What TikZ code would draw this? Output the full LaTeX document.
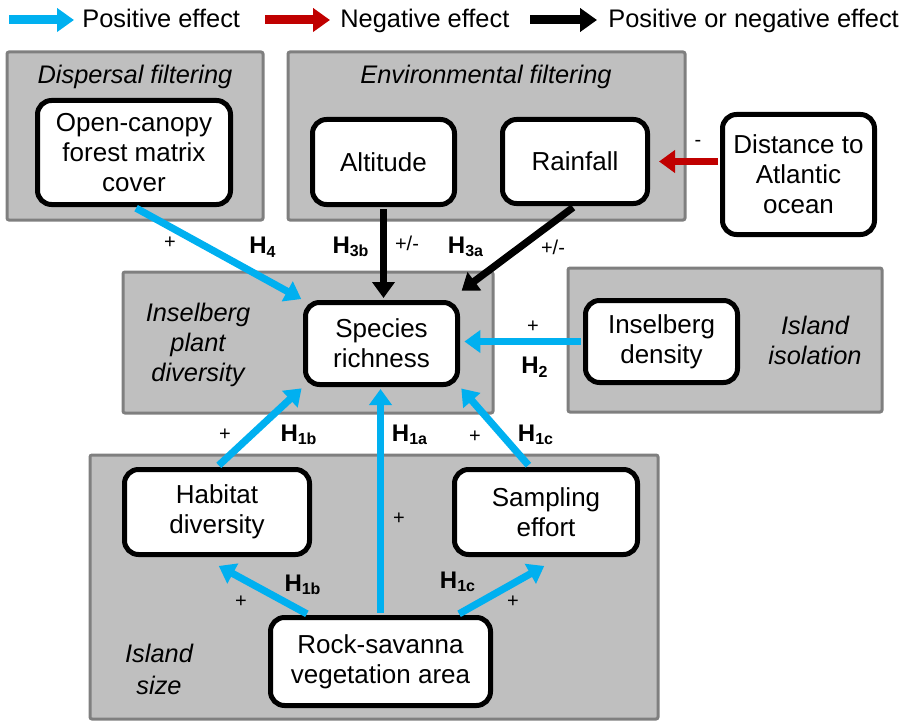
\documentclass[tikz,border=0pt]{standalone}
\usepackage{fontspec}
\setmainfont{Liberation Sans}
\usepackage{tikz}
\usetikzlibrary{positioning,arrows.meta}
\definecolor{posblue}{HTML}{00B0F0}
\definecolor{negred}{HTML}{C00000}
\definecolor{boxgray}{HTML}{BFBFBF}
\definecolor{edgegray}{HTML}{7F7F7F}

\begin{document}
\begin{tikzpicture}[x=0.5pt, y=-0.5pt,
            factor/.style={draw, line width=2.5pt, rounded corners=7pt, fill=white, align=center, inner sep=0pt, font=\fontsize{13}{15}\selectfont},
            group/.style={draw=edgegray, fill=boxgray, line width=1.5pt, rounded corners=1pt},
            grouplabel/.style={align=center, font=\fontsize{12.7}{15}\selectfont\itshape},
            hyp/.style={inner sep=0pt, font=\fontsize{12}{14}\selectfont\bfseries},
            sign/.style={inner sep=0pt, font=\fontsize{10}{12}\selectfont},
            effect/.style={line width=3.6pt, -{Triangle[length=8pt,width=11pt]}, shorten <=1.2pt, shorten >=1pt},
            posfx/.style={effect, posblue},
            negfx/.style={effect, negred},
            bothfx/.style={effect, black},
            legend/.style={anchor=base west, inner sep=0pt, font=\fontsize{12.7}{15}\selectfont},
            legarrow/.style={line width=4.5pt, -{Triangle[length=8.5pt,width=11.5pt]}}
        ]
            \useasboundingbox (0,0) rectangle (905,722);

            \coordinate (lpos) at (9,20);
            \coordinate (lneg) at (265,20);
            \coordinate (lboth) at (530,20);
            \node [legend] (tpos) at (82,28) {Positive effect};
            \node [legend] (tneg) at (340,28) {Negative effect};
            \node [legend] (tboth) at (608,28) {Positive or negative effect};
            \draw [legarrow, posblue, shorten >=4pt] (lpos) -- (lpos -| tpos.west);
            \draw [legarrow, negred, shorten >=5pt] (lneg) -- (lneg -| tneg.west);
            \draw [legarrow, black, shorten >=5.5pt] (lboth) -- (lboth -| tboth.west);

            \draw [group] (7,52) rectangle (263,220);
            \draw [group] (288,52) rectangle (685,220);
            \draw [group] (123,272) rectangle (493,413);
            \draw [group] (568,268) rectangle (882,412);
            \draw [group] (90,455) rectangle (658,719);

            \node [grouplabel] (dispersal) at (135,77) {Dispersal filtering};
            \node [grouplabel] (environment) at (486,77) {Environmental filtering};
            \node [grouplabel] (diversity) at (198,345) {Inselberg\\plant\\diversity};
            \node [grouplabel] (isolation) at (815,340) {Island\\isolation};
            \node [grouplabel, font=\fontsize{12.7}{16}\selectfont\itshape] (size) at (159,669) {Island\\size};

            \node [factor, minimum width=96.5pt, minimum height=52pt] (forest) at (134,152.5) {Open-canopy\\forest matrix\\cover};
            \node [factor, minimum width=71pt, minimum height=42.5pt] (altitude) at (383.5,162) {Altitude};
            \node [factor, minimum width=72.5pt, minimum height=42pt] (rainfall) at (575,161.5) {Rainfall};
            \node [factor, minimum width=76pt, minimum height=60pt] (distance) at (798.5,174.5) {Distance to\\Atlantic\\ocean};
            \node [factor, minimum width=76pt, minimum height=41pt] (species) at (381.5,343.5) {Species\\richness};
            \node [factor, minimum width=76pt, minimum height=41pt] (density) at (661.5,341.5) {Inselberg\\density};
            \node [factor, minimum width=92.5pt, minimum height=42.5pt] (habitat) at (217,512) {Habitat\\diversity};
            \node [factor, minimum width=91.5pt, minimum height=42.5pt] (sampling) at (546,512) {Sampling\\effort};
            \node [factor, minimum width=110pt, minimum height=44pt] (rock) at (380.5,661.5) {Rock-savanna\\vegetation area};

            \draw [posfx] (forest.south) -- (species.north west);
            \draw [bothfx] (altitude.south) -- (altitude.south |- species.north);
            \draw [bothfx] (rainfall.south) -- ([yshift=4pt]species.north east);
            \draw [negfx, shorten >=4.5pt] (distance.west |- rainfall.east) -- (rainfall.east);
            \draw [posfx, shorten >=2.2pt] (density.west) -- (density.west -| species.east);
            \draw [posfx] (habitat.north) -- (species.south west);
            \draw [posfx] ([xshift=-8pt]sampling.north) -- (species.south east);
            \draw [posfx] (rock.north) -- (rock.north |- species.south);
            \draw [posfx] ([xshift=20.5pt]rock.north west) -- ([yshift=-4pt]habitat.south);
            \draw [posfx] ([xshift=-18pt]rock.north east) -- ([yshift=-4pt]sampling.south);

            \node [sign] (s4) at (170,243) {+};
            \node [hyp] (h4) at (263,247) {H\textsubscript{4}};
            \node [hyp] (h3b) at (351,247) {H\textsubscript{3b}};
            \node [sign] (s3b) at (407,243) {+/-};
            \node [hyp] (h3a) at (466,247) {H\textsubscript{3a}};
            \node [sign] (s3a) at (553,247) {+/-};
            \node [sign] (sdist) at (698,143) {-};
            \node [sign] (s2) at (533,327) {+};
            \node [hyp] (h2) at (535,367) {H\textsubscript{2}};
            \node [sign] (s1bt) at (225,435) {+};
            \node [hyp] (h1bt) at (299,435) {H\textsubscript{1b}};
            \node [hyp] (h1a) at (410,435) {H\textsubscript{1a}};
            \node [sign] (s1ct) at (475,437) {+};
            \node [hyp] (h1ct) at (536,435) {H\textsubscript{1c}};
            \node [sign] (s1a) at (399,519) {+};
            \node [sign] (s1bb) at (241,602) {+};
            \node [hyp] (h1bb) at (303,585) {H\textsubscript{1b}};
            \node [hyp] (h1cb) at (458,582) {H\textsubscript{1c}};
            \node [sign] (s1cb) at (513,602) {+};
        \end{tikzpicture}
\end{document}
